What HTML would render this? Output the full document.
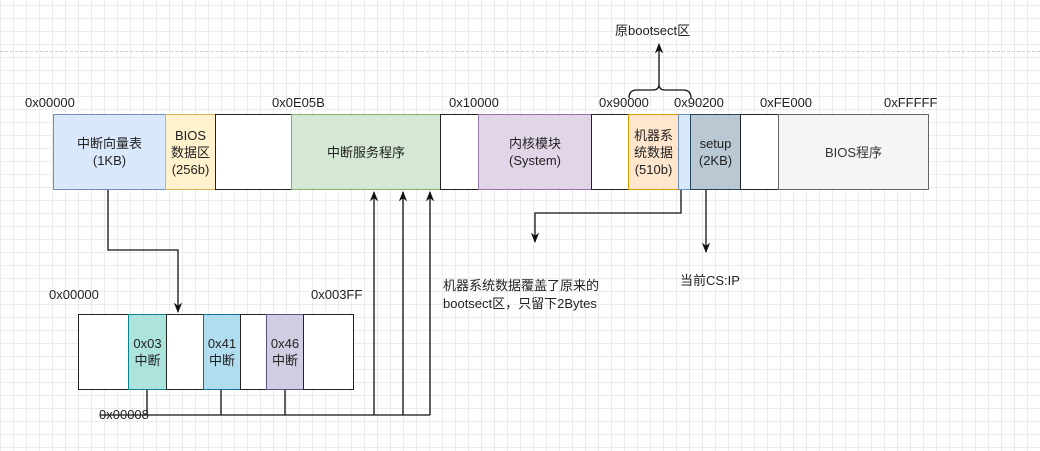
<!DOCTYPE html>
<html><head><meta charset="utf-8"><style>
body{margin:0;width:1040px;height:451px;overflow:hidden;background:#fff;
background-image:linear-gradient(#ececec 1px,transparent 1px),linear-gradient(90deg,#ececec 1px,transparent 1px);background-size:13px 13px;background-position:0 5px;
font-family:"Liberation Sans","Noto Sans CJK SC",sans-serif;font-size:13px;color:#222}
.b{position:absolute;box-sizing:border-box;border:1.5px solid #222;display:flex;align-items:center;justify-content:center;text-align:center;line-height:17px;font-size:13px}
.t{position:absolute;white-space:nowrap;font-size:13px}
</style></head><body>
<div style="position:absolute;left:0;top:51px;width:1040px;border-top:1px dashed #ccc"></div>
<!-- top row -->
<div class="b" style="left:53px;top:114px;width:113px;height:76px;background:#dae8fc;border-color:#6c8ebf">中断向量表<br>(1KB)</div>
<div class="b" style="left:165px;top:114px;width:51px;height:76px;background:#fff2cc;border-color:#d6b656">BIOS<br>数据区<br>(256b)</div>
<div class="b" style="left:215px;top:114px;width:77px;height:76px;background:#fff"></div>
<div class="b" style="left:291px;top:114px;width:150px;height:76px;background:#d5e8d4;border-color:#82b366">中断服务程序</div>
<div class="b" style="left:440px;top:114px;width:39px;height:76px;background:#fff"></div>
<div class="b" style="left:478px;top:114px;width:114px;height:76px;background:#e1d5e7;border-color:#9673a6">内核模块<br>(System)</div>
<div class="b" style="left:591px;top:114px;width:38px;height:76px;background:#fff"></div>
<div class="b" style="left:628px;top:114px;width:51px;height:76px;background:#ffe6cc;border-color:#d79b00">机器系<br>统数据<br>(510b)</div>
<div class="b" style="left:678px;top:114px;width:13px;height:76px;background:#dae8fc;border-color:#6c8ebf"></div>
<div class="b" style="left:690px;top:114px;width:51px;height:76px;background:#bac8d3;border-color:#23445d">setup<br>(2KB)</div>
<div class="b" style="left:740px;top:114px;width:39px;height:76px;background:#fff"></div>
<div class="b" style="left:778px;top:114px;width:151px;height:76px;background:#f5f5f5;border-color:#666;color:#333">BIOS程序</div>
<!-- bottom row -->
<div class="b" style="left:78px;top:314px;width:51px;height:76px;background:#fff"></div>
<div class="b" style="left:128px;top:314px;width:39px;height:76px;background:#ace3da;border-color:#0e8088">0x03<br>中断</div>
<div class="b" style="left:166px;top:314px;width:38px;height:76px;background:#fff"></div>
<div class="b" style="left:203px;top:314px;width:38px;height:76px;background:#b1ddf0;border-color:#10739e">0x41<br>中断</div>
<div class="b" style="left:240px;top:314px;width:27px;height:76px;background:#fff"></div>
<div class="b" style="left:266px;top:314px;width:38px;height:76px;background:#d0cee2;border-color:#56517e">0x46<br>中断</div>
<div class="b" style="left:303px;top:314px;width:51px;height:76px;background:#fff"></div>
<svg width="1040" height="451" style="position:absolute;left:0;top:0" fill="none" stroke="#111" stroke-width="1.3">
<defs><marker id="a" viewBox="0 0 10 10" refX="9" refY="5" markerWidth="8" markerHeight="8" orient="auto"><path d="M0,1L10,5L0,9L3,5z" fill="#111" stroke="none"/></marker></defs>
<path d="M108,190V250H178V312" marker-end="url(#a)"/>
<path d="M147,390V415M221,390V415M285,390V415M100,415H430"/>
<path d="M374,415V192" marker-end="url(#a)"/>
<path d="M403,415V192" marker-end="url(#a)"/>
<path d="M430,415V192" marker-end="url(#a)"/>
<path d="M681,190V213H535V242" marker-end="url(#a)"/>
<path d="M706,190V252" marker-end="url(#a)"/>
<path d="M629,98Q629,90 637,90H653Q659,90 659,84Q659,90 665,90H683Q691,90 691,98"/>
<path d="M659,84V44" marker-end="url(#a)"/>
</svg>
<div class="t" style="left:615px;top:20px">原bootsect区</div>
<div class="t" style="left:25px;top:95px">0x00000</div>
<div class="t" style="left:272px;top:95px">0x0E05B</div>
<div class="t" style="left:449px;top:95px">0x10000</div>
<div class="t" style="left:599px;top:95px">0x90000</div>
<div class="t" style="left:674px;top:95px">0x90200</div>
<div class="t" style="left:760px;top:95px">0xFE000</div>
<div class="t" style="left:884px;top:95px">0xFFFFF</div>
<div class="t" style="left:443px;top:277px;line-height:18px">机器系统数据覆盖了原来的<br>bootsect区，只留下2Bytes</div>
<div class="t" style="left:680px;top:270px">当前CS:IP</div>
<div class="t" style="left:49px;top:287px">0x00000</div>
<div class="t" style="left:311px;top:287px">0x003FF</div>
<div class="t" style="left:99px;top:407px">0x00008</div>
</body></html>
